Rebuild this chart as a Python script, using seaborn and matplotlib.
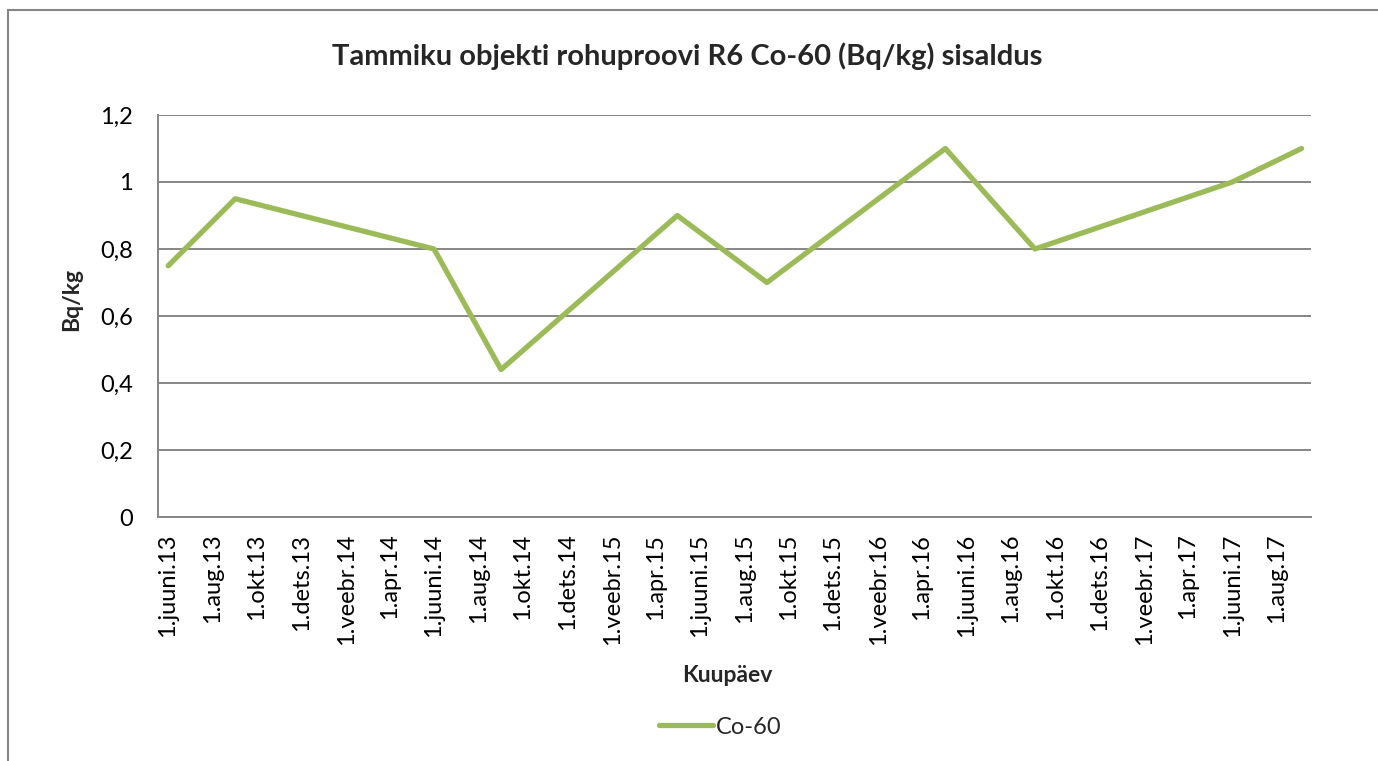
import pandas as pd
import matplotlib
matplotlib.use("Agg")
import matplotlib.pyplot as plt
import matplotlib.transforms as mtransforms
import seaborn as sns
from matplotlib.patches import Rectangle

# Data
dates = ["2013-06-15", "2013-09-15", "2014-06-15", "2014-09-15", "2015-05-15",
         "2015-09-15", "2016-05-17", "2016-09-17", "2017-06-15", "2017-09-18"]
co60 = [0.75, 0.95, 0.80, 0.44, 0.90, 0.70, 1.10, 0.80, 1.00, 1.10]

tick_dates = pd.date_range("2013-06-01", "2017-10-01", freq="2MS")
month_names = {1: "jaan", 2: "veebr", 3: "märts", 4: "apr", 5: "mai", 6: "juuni",
               7: "juuli", 8: "aug", 9: "sept", 10: "okt", 11: "nov", 12: "dets"}
y_ticks = [0, 0.2, 0.4, 0.6, 0.8, 1.0, 1.2]
y_labels = ["0", "0,2", "0,4", "0,6", "0,8", "1", "1,2"]

df = pd.DataFrame({"Kuupäev": pd.to_datetime(dates), "Co-60": co60})

sns.set_theme(style="white")
plt.rcParams["font.family"] = ["Lato", "DejaVu Sans"]

grey = "#868686"
green = "#9BBB59"

fig = plt.figure(figsize=(13.78, 7.61), dpi=100)
ax = fig.add_axes([158 / 1378, 1 - 517 / 761, (1311 - 158) / 1378, (517 - 115) / 761])

sns.lineplot(data=df, x="Kuupäev", y="Co-60", color=green, linewidth=3.8,
             solid_capstyle="round", ax=ax, label="Co-60", legend=False)

ax.set_ylim(0, 1.2)
ax.set_xlim(tick_dates[0], tick_dates[-1])
ax.set_yticks(y_ticks)
ax.set_yticklabels(y_labels)
ax.set_xticks(tick_dates)
xlabels = [f"1.{month_names[d.month]}.{d.strftime('%y')}" for d in tick_dates]
xlabels[-1] = ""
ax.set_xticklabels(xlabels, rotation=90)

ax.grid(axis="y", color=grey, linewidth=1.4)
ax.set_axisbelow(True)
for side in ["top", "right"]:
    ax.spines[side].set_visible(False)
for side in ["left", "bottom"]:
    ax.spines[side].set_color(grey)
    ax.spines[side].set_linewidth(1.4)
ax.tick_params(axis="both", which="both", direction="out", length=6, width=1.4,
               color=grey, labelsize=17, labelcolor="black")
ax.tick_params(axis="y", pad=12)
ax.tick_params(axis="x", pad=6)
ax.set_xlabel("")
ax.set_ylabel("")

# Excel puts the rotated labels a bit right of the tick
shift = mtransforms.ScaledTranslation(10 / 100, 0, fig.dpi_scale_trans)
for lbl in ax.get_xticklabels():
    lbl.set_transform(lbl.get_transform() + shift)

fig.text(687 / 1378, 1 - 56 / 761, "Tammiku objekti rohuproovi R6 Co-60 (Bq/kg) sisaldus",
         ha="center", va="center", fontsize=21, fontweight="bold")
fig.text(727 / 1378, 1 - 676 / 761, "Kuupäev", ha="center", va="center",
         fontsize=16.5, fontweight="bold")
fig.text(72 / 1378, 1 - 300 / 761, "Bq/kg", ha="center", va="center",
         fontsize=16.5, fontweight="bold", rotation=90)

leg = fig.legend(handles=ax.get_lines()[:1], labels=["Co-60"], loc="center",
                 bbox_to_anchor=(720 / 1378, 1 - 727 / 761), frameon=False,
                 fontsize=17, handlelength=2.3, handletextpad=0.1)

fig.patches.append(Rectangle((8 / 1378, -0.1), 1.2, 1 - 10 / 761 + 0.1,
                             transform=fig.transFigure, fill=False,
                             edgecolor=grey, linewidth=1.5))

fig.savefig("out.png", dpi=100)
